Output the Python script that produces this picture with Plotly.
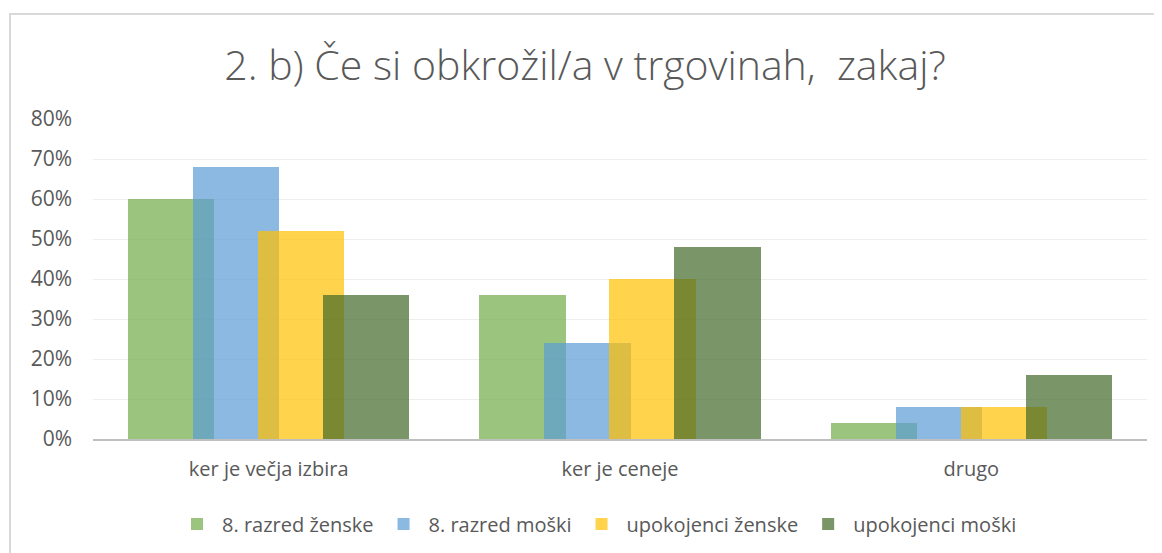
import plotly.graph_objects as go

categories = ["ker je večja izbira", "ker je ceneje", "drugo"]
series_names = ["8. razred ženske", "8. razred moški", "upokojenci ženske", "upokojenci moški"]
vals_8_z = [0.60, 0.36, 0.04]
vals_8_m = [0.68, 0.24, 0.08]
vals_up_z = [0.52, 0.40, 0.08]
vals_up_m = [0.36, 0.48, 0.16]
series_values = [vals_8_z, vals_8_m, vals_up_z, vals_up_m]
y_ticks = [0, 0.1, 0.2, 0.3, 0.4, 0.5, 0.6, 0.7, 0.8]
title_text = "2. b) Če si obkrožil/a v trgovinah,  zakaj?"

colors = ["rgba(112,173,71,0.7)", "rgba(91,155,213,0.7)",
          "rgba(255,192,0,0.7)", "rgba(65,104,39,0.7)"]
bar_width = 0.245
offsets = [-0.400, -0.215, -0.030, 0.155]

FONT = "Open Sans"
TXT = "#595959"

fig = go.Figure()
for name, vals, col, off in zip(series_names, series_values, colors, offsets):
    fig.add_trace(go.Bar(
        x=categories, y=vals, name=name,
        marker=dict(color=col, line=dict(width=0)),
        width=bar_width, offset=off,
        hovertemplate="%{x}<br>%{y:.0%}<extra>" + name + "</extra>",
    ))

# page body has an 8px margin, so the figure is drawn 8px in from the window edge
PAD = 8
W, H = 1162 - 2 * PAD, 553 - PAD
ml, mt = 93 - PAD, 119 - PAD
mr = W - (1147 - PAD)
mb = H - (439 - PAD)
pw, ph = W - ml - mr, H - mt - mb

def px2x(p):  # window pixel -> paper x
    return (p - PAD - ml) / pw

def py2y(p):  # window pixel -> paper y
    return (H - mb - (p - PAD)) / ph

fig.update_layout(
    width=W, height=H,
    barmode="overlay",
    bargap=0,
    margin=dict(l=ml, r=mr, t=mt, b=mb, autoexpand=False),
    paper_bgcolor="white",
    plot_bgcolor="white",
    font=dict(family=FONT, color=TXT, size=16),
    title=dict(
        text=title_text, x=(585 - PAD) / W, xanchor="center",
        y=1 - (66 - PAD) / H, yanchor="middle",
        font=dict(family=FONT, size=41, color=TXT, weight=300),
    ),
    xaxis=dict(
        showgrid=False, showline=True, linecolor="#BFBFBF", linewidth=2,
        ticks="", tickfont=dict(size=20, color=TXT), ticklabelstandoff=11,
    ),
    yaxis=dict(
        range=[0, 0.8], tickvals=y_ticks, tickformat=".0%",
        showgrid=True, gridcolor="#EEEEEE", gridwidth=1,
        zeroline=False, showline=False, ticks="",
        tickfont=dict(size=21, color=TXT), ticklabelstandoff=20,
    ),
    legend=dict(
        orientation="h", x=px2x(597), xanchor="center",
        y=py2y(524), yanchor="middle",
        font=dict(size=20, color=TXT), itemwidth=40, traceorder="normal",
    ),
    shapes=[dict(
        type="rect", xref="paper", yref="paper",
        x0=px2x(10), x1=px2x(1200), y0=py2y(600), y1=py2y(14),
        line=dict(color="#D9D9D9", width=2), fillcolor="rgba(0,0,0,0)",
        layer="below",
    )],
)

fig.write_html("out.html")
